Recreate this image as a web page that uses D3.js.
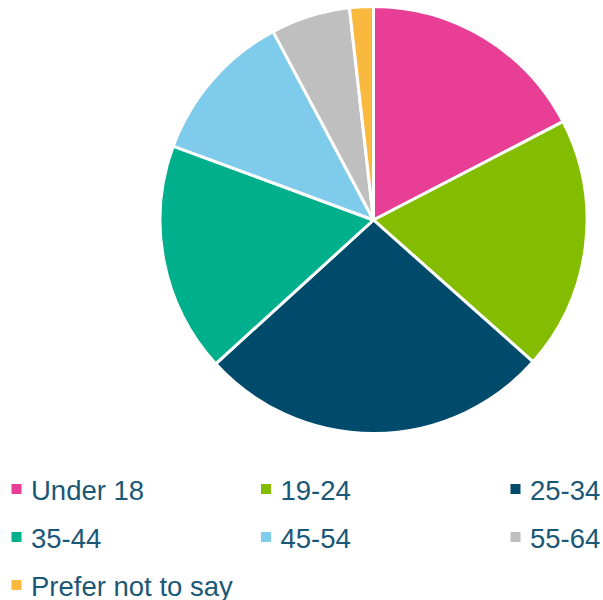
<!DOCTYPE html>
<html><head><meta charset="utf-8">
<script src="https://cdn.jsdelivr.net/npm/d3@7"></script>
<style>html,body{margin:0;padding:0;background:#fff;}svg{display:block;}</style>
</head><body>
<svg id="chart" width="603" height="600"></svg>
<script>
const categories = ["Under 18","19-24","25-34","35-44","45-54","55-64","Prefer not to say"];
const values = [17.4, 19.2, 26.7, 17.4, 11.6, 6.0, 1.8];
const colors = ["#E83E96","#84BD00","#004B6B","#00B08C","#7FCBEB","#BFBFBF","#F9B93F"];

const svg = d3.select("#chart");
const cx = 373.5, cy = 220, r = 213.5;
const data = categories.map((c,i)=>({cat:c, value:values[i]}));
const color = d3.scaleOrdinal().domain(categories).range(colors);
const pie = d3.pie().value(d=>d.value).sort(null);
const arc = d3.arc().innerRadius(0).outerRadius(r);

svg.append("g").attr("transform",`translate(${cx},${cy})`)
  .selectAll("path").data(pie(data)).join("path")
  .attr("d",arc).attr("fill",d=>color(d.data.cat))
  .attr("stroke","#fff").attr("stroke-width",3).attr("stroke-linejoin","round");

const colX = d3.scalePoint().domain([0,1,2]).range([11.5,510.5]);
const rowY = d3.scalePoint().domain([0,1,2]).range([484,580]);
const leg = svg.append("g").selectAll("g").data(data).join("g")
  .attr("transform",(d,i)=>`translate(${colX(i%3)},${rowY(Math.floor(i/3))})`);
leg.append("rect").attr("width",10).attr("height",10).attr("fill",d=>color(d.cat));
leg.append("text").attr("x",19.5).attr("y",15.5)
  .attr("font-family","'Liberation Sans',sans-serif")
  .attr("font-size",27.5).attr("fill","#1B5877").text(d=>d.cat);
</script>
</body></html>
